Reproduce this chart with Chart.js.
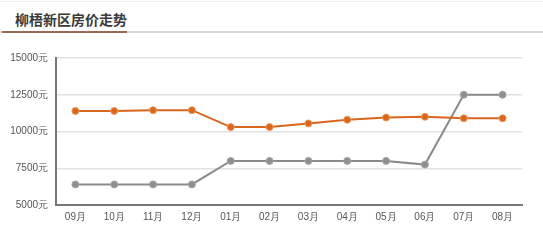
<!DOCTYPE html>
<html>
<head>
<meta charset="utf-8">
<script src="https://cdn.jsdelivr.net/npm/chart.js@4"></script>
<style>
  body { margin: 0; background: #fff; width: 543px; height: 240px; overflow: hidden; position: relative; font-family: "Noto Sans CJK SC", "Noto Sans", sans-serif; }
  .topline { position: absolute; left: 0; top: 1px; width: 543px; height: 1px; background: #eee; }
  .title { position: absolute; left: 15px; top: 9px; font-size: 14px; font-weight: bold; color: #3a3a3a; }
  .bar-grey { position: absolute; left: 0; top: 31px; width: 543px; height: 2px; background: #d8d8d8; }
  .bar-brown { position: absolute; left: 2px; top: 31px; width: 125px; height: 2px; background: #9a6a58; }
  .wrap { position: absolute; left: 0; top: 40px; width: 543px; height: 200px; }
</style>
</head>
<body>
<div class="topline"></div>
<div class="title">柳梧新区房价走势</div>
<div class="bar-grey"></div>
<div class="bar-brown"></div>
<div class="wrap"><canvas id="priceChart"></canvas></div>
<script>
// 月份
const months = ['09月', '10月', '11月', '12月', '01月', '02月', '03月', '04月', '05月', '06月', '07月', '08月'];
// 两条价格线（元/平米）
const orangeSeries = [11400, 11400, 11450, 11450, 10300, 10300, 10550, 10800, 10950, 11000, 10900, 10900];
const greySeries = [6400, 6400, 6400, 6400, 8000, 8000, 8000, 8000, 8000, 7750, 12500, 12500];
// 纵轴刻度
const yTicks = [5000, 7500, 10000, 12500, 15000];

const ctx = document.getElementById('priceChart').getContext('2d');

new Chart(ctx, {
    type: 'line',
    data: {
        labels: months,
        datasets: [{
            data: orangeSeries,
            borderColor: '#d8661c',
            backgroundColor: '#d8661c',
            pointBorderColor: '#eb9a5c',
            pointBorderWidth: 1,
            pointRadius: 3.5,
            borderWidth: 2,
            tension: 0
        }, {
            data: greySeries,
            borderColor: '#8a8a8a',
            backgroundColor: '#8f8f8f',
            pointBorderColor: '#a5a5a5',
            pointBorderWidth: 1,
            pointRadius: 3.5,
            borderWidth: 2,
            tension: 0
        }]
    },
    options: {
        responsive: true,
        maintainAspectRatio: false,
        animation: false,
        layout: { padding: { left: 0, top: 18, right: 21, bottom: 0 } },
        plugins: {
            legend: { display: false },
            tooltip: { enabled: false }
        },
        scales: {
            x: {
                offset: true,
                grid: { display: false },
                border: { color: '#777', width: 2 },
                ticks: { color: '#555', font: { size: 10 }, padding: -2 },
                afterFit: function(scale) { scale.height = 35; }
            },
            y: {
                min: yTicks[0],
                max: yTicks[yTicks.length - 1],
                afterBuildTicks: function(scale) { scale.ticks = yTicks.map(v => ({ value: v })); },
                grid: { color: '#e2e2e2', lineWidth: 1.5, drawTicks: false },
                border: { color: '#777', width: 2 },
                ticks: {
                    color: '#555',
                    font: { size: 10 },
                    padding: 8,
                    callback: function(value) { return value + '元'; }
                },
                afterFit: function(scale) { scale.width = 56; }
            }
        }
    }
});
</script>
</body>
</html>
